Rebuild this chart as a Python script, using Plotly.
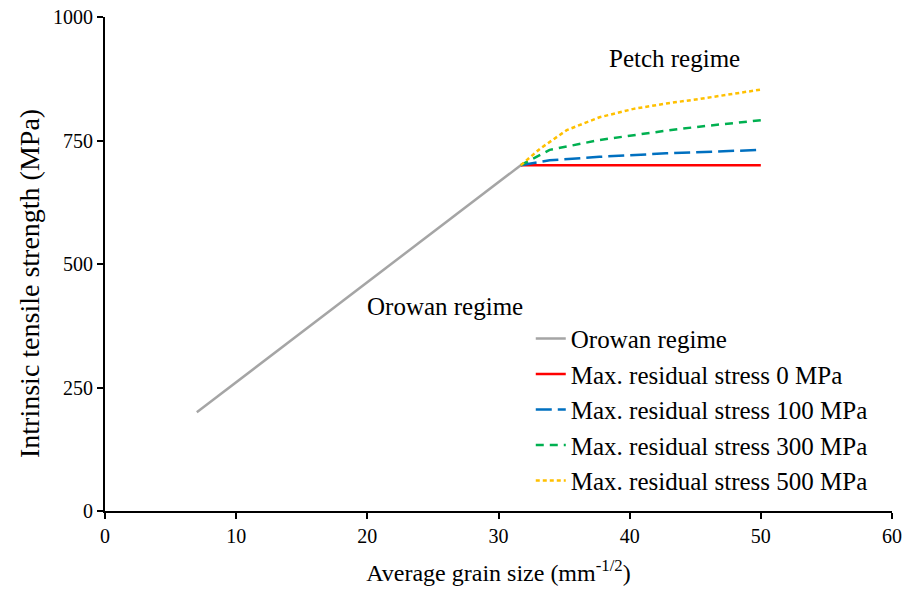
import plotly.graph_objects as go

# Data
orowan_x = [7, 31.7]
orowan_y = [200, 700]

s0_x = [31.7, 50]
s0_y = [700, 700]

s100_x = [31.7, 33.9, 37.7, 42.8, 50]
s100_y = [700, 710, 717, 724, 731]

s300_x = [31.7, 33.9, 37.7, 40.3, 42.8, 45.3, 50]
s300_y = [700, 731, 751, 761, 770, 778, 791]

s500_x = [31.7, 33.2, 35.2, 37.7, 40.3, 42.8, 45.3, 47.9, 50]
s500_y = [700, 734, 771, 797, 814, 825, 834, 845, 853]

x_ticks = [0, 10, 20, 30, 40, 50, 60]
y_ticks = [0, 250, 500, 750, 1000]

FONT = "Liberation Serif"

fig = go.Figure()
series = [
    ("Orowan regime", orowan_x, orowan_y, "#A5A5A5", "solid"),
    ("Max. residual stress 0 MPa", s0_x, s0_y, "#FF0000", "solid"),
    ("Max. residual stress 100 MPa", s100_x, s100_y, "#0070C0", "16px,6px"),
    ("Max. residual stress 300 MPa", s300_x, s300_y, "#00B050", "8px,6px"),
    ("Max. residual stress 500 MPa", s500_x, s500_y, "#FFC000", "4px,3px"),
]
for i, (name, xs, ys, col, dash) in enumerate(series):
    fig.add_trace(go.Scatter(
        x=xs, y=ys, mode="lines", name=name, legendgroup=f"g{i}",
        line=dict(color=col, width=2.5, dash=dash),
    ))

fig.add_annotation(x=43.4, y=917, text="Petch regime", showarrow=False,
                   font=dict(family=FONT, size=25, color="black"))
fig.add_annotation(x=25.9, y=413, text="Orowan regime", showarrow=False,
                   font=dict(family=FONT, size=25, color="black"))
# y-axis title
fig.add_annotation(x=-0.095, y=0.46, xref="paper", yref="paper", textangle=-90,
                   text="Intrinsic tensile strength (MPa)", showarrow=False,
                   xanchor="center", yanchor="middle",
                   font=dict(family=FONT, size=28, color="black"))

fig.update_layout(
    width=913, height=591,
    margin=dict(l=105, r=21, t=17, b=80, autoexpand=False),
    plot_bgcolor="white", paper_bgcolor="white",
    showlegend=True,
    legend=dict(x=0.541, y=0.395, xanchor="left", yanchor="top",
                bgcolor="rgba(0,0,0,0)", font=dict(family=FONT, size=25, color="black"),
                tracegroupgap=0, itemwidth=30),
)
fig.update_xaxes(
    range=[0, 60], tickvals=x_ticks, showgrid=False, zeroline=False,
    showline=True, linecolor="black", linewidth=2,
    ticks="outside", ticklen=6, tickwidth=1.5, tickcolor="black",
    tickfont=dict(family=FONT, size=20, color="black"),
    title=dict(text="Average grain size (mm<sup>-1/2</sup>)", font=dict(family=FONT, size=24, color="black"), standoff=18),
)
fig.update_yaxes(
    range=[0, 1000], tickvals=y_ticks, showgrid=False, zeroline=False,
    showline=True, linecolor="black", linewidth=2,
    ticks="outside", ticklen=6, tickwidth=1.5, tickcolor="black",
    tickfont=dict(family=FONT, size=20, color="black"),
)

fig.write_html("out.html")
